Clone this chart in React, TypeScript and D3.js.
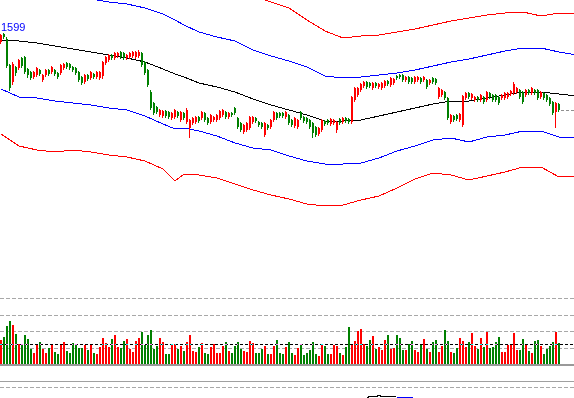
import React from 'react';
import * as d3 from 'd3';

// daily candles (price)
const opens = [
  1590, 1598, 1593, 1567, 1550, 1565, 1564, 1574, 1575, 1563, 1560, 1555, 1557, 1562, 1552, 1557, 1562, 1560, 1562, 1559,
  1559, 1564, 1569, 1568, 1565, 1564, 1560, 1555, 1550, 1557, 1554, 1558, 1555, 1554, 1556, 1569, 1572, 1577, 1574, 1576,
  1580, 1579, 1574, 1575, 1576, 1575, 1576, 1579, 1570, 1562, 1540, 1529, 1525, 1517, 1516, 1521, 1520, 1514, 1515, 1520,
  1512, 1519, 1510, 1504, 1509, 1510, 1515, 1514, 1519, 1514, 1510, 1512, 1512, 1514, 1517, 1520, 1515, 1519, 1524, 1514,
  1509, 1500, 1502, 1504, 1510, 1514, 1510, 1509, 1497, 1507, 1505, 1512, 1519, 1519, 1519, 1515, 1517, 1512, 1506, 1505,
  1520, 1515, 1514, 1512, 1509, 1505, 1498, 1502, 1511, 1512, 1508, 1509, 1502, 1513, 1510, 1514, 1513, 1510, 1532, 1537,
  1542, 1546, 1550, 1549, 1544, 1549, 1545, 1544, 1546, 1551, 1547, 1549, 1556, 1557, 1557, 1552, 1555, 1554, 1550, 1552,
  1554, 1552, 1552, 1549, 1554, 1553, 1535, 1537, 1540, 1534, 1510, 1516, 1517, 1512, 1507, 1534, 1539, 1534, 1532, 1535,
  1532, 1535, 1532, 1539, 1537, 1537, 1535, 1534, 1534, 1535, 1538, 1539, 1540, 1542, 1540, 1537, 1542, 1539, 1542, 1542,
  1535, 1539, 1537, 1534, 1530, 1520, 1528,
];
const closes = [
  1597, 1595, 1566, 1544, 1568, 1559, 1572, 1566, 1560, 1557, 1554, 1560, 1564, 1558, 1557, 1562, 1558, 1565, 1558, 1555,
  1567, 1568, 1565, 1564, 1562, 1559, 1552, 1549, 1557, 1553, 1560, 1555, 1560, 1560, 1570, 1575, 1577, 1574, 1579, 1579,
  1575, 1574, 1577, 1579, 1580, 1580, 1580, 1567, 1559, 1547, 1524, 1519, 1520, 1522, 1521, 1516, 1515, 1519, 1522, 1516,
  1520, 1514, 1522, 1512, 1514, 1515, 1511, 1520, 1512, 1509, 1517, 1515, 1517, 1521, 1522, 1515, 1519, 1517, 1519, 1505,
  1502, 1507, 1509, 1515, 1515, 1511, 1507, 1505, 1509, 1504, 1512, 1520, 1514, 1516, 1516, 1520, 1509, 1507, 1514, 1512,
  1514, 1511, 1510, 1505, 1499, 1497, 1504, 1512, 1508, 1509, 1513, 1512, 1510, 1509, 1514, 1511, 1510, 1535, 1544, 1544,
  1548, 1550, 1545, 1546, 1549, 1546, 1548, 1549, 1551, 1548, 1554, 1553, 1554, 1555, 1552, 1555, 1550, 1550, 1555, 1555,
  1550, 1555, 1545, 1552, 1550, 1549, 1544, 1542, 1534, 1514, 1517, 1512, 1513, 1518, 1536, 1539, 1535, 1538, 1535, 1532,
  1537, 1530, 1540, 1535, 1532, 1532, 1529, 1537, 1539, 1539, 1541, 1548, 1544, 1535, 1530, 1542, 1539, 1544, 1539, 1534,
  1540, 1534, 1532, 1528, 1519, 1529, 1522,
];
const highs = [
  1598, 1599, 1595, 1568, 1570, 1566, 1573, 1575, 1576, 1564, 1561, 1561, 1565, 1563, 1558, 1563, 1563, 1566, 1563, 1560,
  1568, 1569, 1570, 1569, 1566, 1565, 1561, 1556, 1558, 1558, 1561, 1559, 1561, 1561, 1571, 1576, 1578, 1578, 1580, 1580,
  1581, 1580, 1578, 1580, 1581, 1581, 1582, 1580, 1571, 1563, 1542, 1530, 1526, 1523, 1522, 1522, 1521, 1520, 1523, 1521,
  1521, 1520, 1524, 1513, 1515, 1516, 1516, 1521, 1520, 1515, 1518, 1516, 1518, 1522, 1523, 1521, 1520, 1520, 1525, 1515,
  1510, 1508, 1510, 1516, 1516, 1515, 1511, 1510, 1510, 1508, 1513, 1521, 1520, 1520, 1520, 1521, 1518, 1513, 1515, 1513,
  1521, 1516, 1515, 1513, 1510, 1506, 1505, 1513, 1512, 1513, 1514, 1513, 1511, 1514, 1515, 1515, 1514, 1536, 1545, 1545,
  1549, 1551, 1551, 1550, 1550, 1550, 1549, 1550, 1552, 1552, 1555, 1554, 1557, 1558, 1558, 1556, 1556, 1555, 1556, 1556,
  1555, 1556, 1553, 1553, 1555, 1554, 1545, 1543, 1541, 1535, 1518, 1517, 1518, 1519, 1537, 1540, 1540, 1539, 1536, 1536,
  1538, 1536, 1541, 1540, 1538, 1538, 1536, 1538, 1540, 1540, 1542, 1550, 1545, 1543, 1541, 1543, 1543, 1545, 1543, 1543,
  1541, 1540, 1538, 1535, 1531, 1530, 1529,
];
const lows = [
  1589, 1594, 1565, 1542, 1548, 1557, 1563, 1565, 1559, 1555, 1553, 1554, 1556, 1557, 1551, 1556, 1557, 1559, 1557, 1554,
  1558, 1563, 1564, 1563, 1561, 1558, 1551, 1548, 1549, 1552, 1553, 1554, 1554, 1553, 1554, 1568, 1571, 1573, 1573, 1575,
  1574, 1573, 1573, 1574, 1575, 1574, 1575, 1566, 1558, 1546, 1523, 1518, 1519, 1516, 1515, 1515, 1514, 1513, 1514, 1515,
  1511, 1513, 1509, 1495, 1508, 1509, 1510, 1513, 1511, 1508, 1509, 1511, 1511, 1513, 1516, 1514, 1514, 1516, 1518, 1504,
  1501, 1499, 1501, 1503, 1509, 1510, 1506, 1504, 1496, 1503, 1504, 1511, 1513, 1515, 1515, 1514, 1508, 1506, 1505, 1504,
  1513, 1510, 1509, 1504, 1495, 1496, 1497, 1501, 1507, 1508, 1507, 1508, 1500, 1508, 1509, 1510, 1509, 1509, 1531, 1536,
  1541, 1545, 1544, 1545, 1543, 1545, 1544, 1543, 1545, 1547, 1546, 1548, 1553, 1554, 1551, 1551, 1549, 1549, 1549, 1551,
  1549, 1551, 1544, 1548, 1549, 1548, 1534, 1536, 1533, 1513, 1509, 1511, 1512, 1511, 1506, 1533, 1534, 1533, 1531, 1531,
  1531, 1529, 1531, 1534, 1531, 1531, 1528, 1533, 1533, 1534, 1537, 1538, 1539, 1534, 1529, 1536, 1538, 1538, 1538, 1533,
  1534, 1533, 1531, 1527, 1518, 1505, 1521,
];
const volumes = [
  12000, 13500, 19000, 21500, 19500, 15000, 10000, 10000, 14500, 12500, 7500, 5500, 9500, 11000, 7500, 5500, 8000, 9500, 6000, 5000,
  9500, 11000, 6500, 5500, 10500, 10000, 8000, 8000, 9500, 7000, 9500, 5500, 5000, 8500, 13000, 10500, 8500, 12500, 14500, 8500,
  8000, 11500, 12500, 7500, 6000, 11500, 13000, 16000, 9500, 14500, 17000, 7500, 9000, 13000, 11000, 5000, 5000, 10000, 10000, 7500,
  9000, 6500, 11000, 14500, 6500, 6000, 8500, 10500, 5500, 5000, 8500, 10000, 5500, 5500, 9000, 11000, 6500, 5500, 9000, 11000,
  7500, 6500, 6000, 11500, 10500, 5500, 5500, 7500, 9000, 5000, 5000, 9000, 12000, 5500, 5000,
  8500, 11000, 5500, 4500, 8000, 10000, 4500, 5500, 7000, 11000, 5000, 4000, 10000, 9000, 5000, 5000, 9500, 9000, 5500, 4500,
  8500, 18500, 9500, 11500, 16500, 17500, 10000, 9000, 12000, 14000, 7500, 8500, 7000, 12000, 14500, 7500, 8000, 14500, 13000, 7000,
  7000, 10000, 11500, 7000, 6000, 9500, 12500, 7500, 6000, 11000, 12000, 6000, 9000, 17000, 11500, 6000, 5500, 8000, 13000, 11500,
  8500, 11000, 15500, 9000, 7500, 13000, 8500, 16000, 8000, 8500, 11000, 13500, 6000, 6000, 9500, 9500, 15500, 7000, 7000, 12500,
  9500, 6500, 5500, 11500, 12000, 9000, 5000, 7500, 9000, 11000, 16000, 10500,
];
const avgVolume = 10000;
const volumeTicks = [8250, 16500, 24750, 33000];

// envelope lines, sampled at these candle indices
const bandIndex = [
  0, 6, 12, 18, 24, 30, 36, 42, 48, 54, 58, 61, 66, 72, 78, 84, 90, 96,
  102, 108, 114, 120, 126, 132, 138, 144, 150, 156, 162, 168, 174, 180, 186, 192,
];
const midBand = [
  1592, 1591, 1589, 1586, 1583, 1580, 1577, 1574, 1570, 1563, 1558, 1555, 1549, 1545, 1540, 1533, 1527, 1522,
  1517, 1511, 1511, 1512, 1516, 1520, 1524, 1528, 1531, 1531, 1534, 1537, 1540, 1540, 1538, 1536,
];
const innerUpper = [
  1641, 1647, 1644, 1641, 1637, 1633, 1630, 1628, 1624, 1618, 1612, 1607, 1600, 1595, 1591, 1582, 1576, 1571,
  1565, 1556, 1554, 1555, 1557, 1559, 1562, 1566, 1570, 1573, 1577, 1581, 1584, 1584, 1580, 1577,
];
const innerLower = [
  1543, 1535, 1534, 1531, 1529, 1527, 1524, 1522, 1516, 1508, 1503, 1504, 1501, 1496, 1489, 1484, 1482, 1476,
  1471, 1468, 1468, 1469, 1474, 1481, 1486, 1492, 1494, 1490, 1495, 1497, 1501, 1501, 1495, 1494,
];
const outerUpper = [
  1686, 1696, 1696, 1692, 1684, 1680, 1677, 1673, 1669, 1663, 1659, 1656, 1644, 1642, 1640, 1636, 1630, 1624,
  1612, 1601, 1594, 1596, 1597, 1600, 1603, 1607, 1611, 1614, 1617, 1619, 1620, 1616, 1619, 1618,
];
const outerLower = [
  1498, 1486, 1482, 1480, 1482, 1480, 1477, 1475, 1471, 1463, 1451, 1458, 1457, 1454, 1448, 1442, 1437, 1433,
  1428, 1426, 1427, 1432, 1436, 1444, 1453, 1459, 1457, 1452, 1456, 1460, 1465, 1465, 1455, 1456,
];

const UP = '#ff0000';
const DOWN = '#008000';

export default function App() {
  const W = 574;
  const H = 398;
  const x = d3.scaleLinear().domain([0, 191]).range([0, 573]);
  const yP = d3.scaleLinear().domain([1424, 1632]).range([208, 0]);
  const yV = d3.scaleLinear().domain([0, 33000]).range([364, 298]);

  const bandLine = d3
    .line<number>()
    .x((_, k) => x(bandIndex[k]) + 1)
    .y((v) => yP(v));

  const bands = [
    { data: outerUpper, color: '#ff0000' },
    { data: outerLower, color: '#ff0000' },
    { data: innerUpper, color: '#0000ff' },
    { data: innerLower, color: '#0000ff' },
    { data: midBand, color: '#000000' },
  ];

  const maxHigh = d3.max(highs) as number;
  const last = closes.length - 1;
  const lastX = x(last) + 3;

  return (
    <svg
      width={W}
      height={H}
      style={{ position: 'fixed', left: 0, top: 0 }}
      shapeRendering="crispEdges"
    >
      <rect width={W} height={H} fill="#fff" />

      {bands.map((b, k) => (
        <path key={k} d={bandLine(b.data) || ''} fill="none" stroke={b.color} strokeWidth={1} />
      ))}

      {opens.map((o, i) => {
        const c = closes[i];
        const col = c >= o ? UP : DOWN;
        const top = yP(Math.max(o, c));
        const bot = yP(Math.min(o, c));
        return (
          <g key={i}>
            <line x1={x(i) + 0.5} x2={x(i) + 0.5} y1={yP(highs[i])} y2={yP(lows[i]) + 1} stroke={col} />
            <rect x={x(i)} y={top} width={2} height={Math.max(1, bot - top)} fill={col} />
          </g>
        );
      })}

      <line
        x1={lastX}
        x2={W}
        y1={yP(closes[last]) + 0.5}
        y2={yP(closes[last]) + 0.5}
        stroke="#909090"
        strokeDasharray="3,2"
      />

      <text x={1} y={yP(maxHigh) - 2} fill="#0000ff" fontFamily="'Liberation Sans', Arial, sans-serif" fontSize={11}>
        {maxHigh}
      </text>

      {volumeTicks.map((t) => (
        <line key={t} x1={0} x2={W} y1={yV(t) + 0.5} y2={yV(t) + 0.5} stroke="#a8a8a8" strokeDasharray="4,2" />
      ))}

      {volumes.map((v, i) => (
        <rect
          key={i}
          x={x(i)}
          y={yV(v)}
          width={2}
          height={yV(0) - yV(v)}
          fill={closes[i] >= opens[i] ? UP : DOWN}
        />
      ))}

      <line
        x1={0}
        x2={W}
        y1={yV(avgVolume) + 0.5}
        y2={yV(avgVolume) + 0.5}
        stroke="#ffffff"
        strokeDasharray="3,2"
        style={{ mixBlendMode: 'difference' }}
      />

      <rect x={0} y={yV(0)} width={W} height={2} fill="#999" />
      <line x1={0} x2={W} y1={381.5} y2={381.5} stroke="#a0a0a0" />
      <line x1={0} x2={W} y1={387.5} y2={387.5} stroke="#a8a8a8" strokeDasharray="4,2" />

      <path d="M367,397.5 L370,396.5 L376,396.5 L379,395.5 L382,396.5 L396,396.5" fill="none" stroke="#000" />
      <line x1={397} x2={413} y1={397.5} y2={397.5} stroke="#0000ff" />
    </svg>
  );
}
